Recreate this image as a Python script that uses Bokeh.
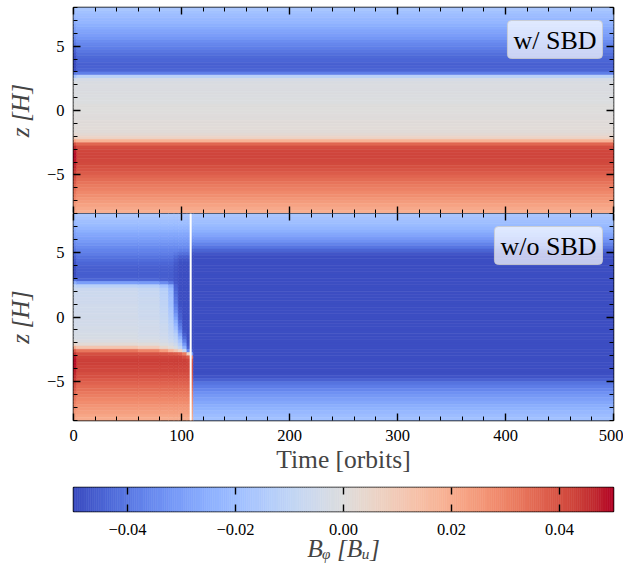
import numpy as np
from bokeh.plotting import figure
from bokeh.models import (ColumnDataSource, LinearAxis, FixedTicker, CustomJSTickFormatter,
                          Span, Label, LinearColorMapper, Range1d)
from bokeh.layouts import column
from bokeh.embed import file_html
from bokeh.resources import INLINE

# ------------------------------------------------------------------ data
TIME_RANGE = (0, 500)            # orbits
Z_RANGE = (-8, 8)                # H
B_LIMITS = (-0.05, 0.05)         # colour limits [B_u]
B_UNIT = 1e-3                    # profiles below are in units of 1e-3 B_u

X_TICKS = [0, 100, 200, 300, 400, 500]
X_MINOR = list(range(0, 501, 20))
Z_TICKS = [-5, 0, 5]
Z_MINOR = list(range(-8, 9))
CB_TICKS = [-0.04, -0.02, 0.0, 0.02, 0.04]

T_TRANSITION = 108.5             # white marker line in the lower panel (orbits)

PANEL_LABELS = ["w/ SBD", "w/o SBD"]

# z cells, 0.25 H thick, listed from the top (z = 8) downwards
Z_EDGES = [8 - 0.25 * k for k in range(65)]

# ---- B_phi(z) profiles (top -> bottom, 64 cells, 1e-3 B_u)
# segments: z 7.9..3.1 (20) | 2.9..2.4 (3) | 2.1..-1.6 (16) | -1.9..-2.9 (5) | -3.1..-7.9 (20)
SBD_START = ([-18, -19.5, -21, -23, -25, -27, -29, -31, -33, -35, -37.5, -40, -42.5, -45, -47, -48.5, -49.5, -50, -50, -49]
             + [-40, -18, -5]
             + [-1.5, -1, -1, -1, -1, -0.5, -0.5, 0, 0, 0, 0.5, 0.5, 1, 1, 1.5, 1.5]
             + [3, 8, 22, 40, 46]
             + [48, 49, 49, 48.5, 47.5, 46.5, 45, 43.5, 42, 40, 38.5, 36.5, 35, 33, 31, 29.5, 27.5, 25.5, 23.5, 21.5])
SBD_STEADY = ([-17, -18.5, -20, -21.5, -23, -25, -26.5, -28, -30, -32, -34, -36, -38, -40, -41.5, -43, -44, -45, -45, -44.5]
              + [-38, -12, -3]
              + [-1.5, -1, -1, -1, -1, -0.5, -0.5, 0, 0, 0, 0.5, 0.5, 1, 1, 1.5, 1.5]
              + [2.5, 6, 18, 36, 41]
              + [42, 42.5, 42.5, 42, 41.5, 40.5, 39.5, 38, 36.5, 35, 33.5, 32, 30.5, 29, 27.5, 26, 24.5, 23, 21, 19.5])

NOSBD_START = ([-18, -19.5, -21, -23, -25, -27, -29, -31, -33, -35, -37.5, -40, -42.5, -45, -47, -48.5, -49.5, -50, -50, -49]
               + [-42, -25, -10]
               + [-7, -6, -6, -5.5, -5.5, -5, -5, -5, -4.5, -4.5, -4, -4, -3.5, -3.5, -3, -2.5]
               + [0, 5, 18, 38, 45]
               + [48, 49, 49, 48.5, 47.5, 46.5, 45, 43.5, 42, 40, 38.5, 36.5, 35, 33, 31, 29.5, 27.5, 25.5, 23.5, 21.5])
NOSBD_EARLY = ([-16, -17.5, -19.5, -21, -23, -25, -27, -29, -31, -33, -35, -37, -39, -41, -42.5, -44, -45, -46, -46, -46]
               + [-44, -30, -12]
               + [-7, -6, -6, -5.5, -5.5, -5, -5, -5, -4.5, -4.5, -4, -4, -3.5, -3.5, -3, -2.5]
               + [-1, 2, 12, 33, 40.5]
               + [42.5, 43, 43, 42.5, 42, 41, 40, 38.5, 37, 35.5, 34, 32.5, 31, 29.5, 28, 26.5, 25, 23.5, 21.5, 20])
NOSBD_60 = ([-16, -17.5, -19.5, -21, -23, -25, -27, -29, -31, -33, -35, -37, -39, -41, -42.5, -44, -45, -46, -46, -46]
            + [-44, -31, -13]
            + [-8.5, -7.5, -7.5, -7, -7, -6.5, -6.5, -6, -6, -5.5, -5, -5, -4.5, -4.5, -4, -3.5]
            + [-2, 1, 9, 30, 40]
            + [42.5, 43, 43, 42.5, 42, 41, 40, 38.5, 37, 35.5, 34, 32.5, 31, 29.5, 28, 26.5, 25, 23.5, 21.5, 20])
NOSBD_80 = ([-16, -17.5, -19.5, -21, -23, -25, -27, -29, -31, -33, -35, -37, -39, -41, -42.5, -44, -45, -46, -46, -46]
            + [-45, -35, -18]
            + [-13, -12, -11.5, -11, -10.5, -10, -9.5, -9, -8.5, -8, -7.5, -7, -6.5, -6, -5.5, -5]
            + [-3.5, -1, 4, 24, 39.5]
            + [42.5, 43, 43, 42.5, 42, 41, 40, 38.5, 37, 35.5, 34, 32.5, 31, 29.5, 28, 26.5, 25, 23.5, 21.5, 20])
NOSBD_88 = ([-16, -17.5, -19.5, -21, -23, -25, -27, -29, -31, -33, -35, -37, -39, -41, -42.5, -44, -45, -46, -46, -46]
            + [-46, -40, -26]
            + [-22, -21, -20, -19.5, -19, -18, -17, -16, -15, -14, -13, -12, -11, -10, -9, -8]
            + [-6, -3, 1, 17, 39]
            + [42.5, 43, 43, 42.5, 42, 41, 40, 38.5, 37, 35.5, 34, 32.5, 31, 29.5, 28, 26.5, 25, 23.5, 21.5, 20])
NOSBD_93 = ([-16, -17.5, -19.5, -21, -23, -25, -27, -29, -31, -33, -35, -37, -40, -43, -45, -46.5, -47.5, -48, -48, -48]
            + [-48, -47, -45]
            + [-44, -43, -42, -41, -40, -38, -36, -34, -31, -28, -25, -22, -19, -16, -13, -11]
            + [-9, -6, -2, 12, 38]
            + [42.5, 43, 43, 42.5, 42, 41, 40, 38.5, 37, 35.5, 34, 32.5, 31, 29.5, 28, 26.5, 25, 23.5, 21.5, 20])
NOSBD_97 = ([-16, -17.5, -19.5, -21, -23, -25, -27, -29, -31, -33, -35, -38, -42, -46, -48, -49, -49.5, -49.5, -49.5, -49.5]
            + [-49.5, -49.5, -49.5]
            + [-49.5, -49.5, -49.5, -49.5, -49, -48.5, -48, -47, -46, -45, -43, -41, -38, -34, -29, -24]
            + [-19, -14, -9, 6, 37]
            + [42.5, 43, 43, 42.5, 42, 41, 40, 38.5, 37, 35.5, 34, 32.5, 31, 29.5, 28, 26.5, 25, 23.5, 21.5, 20])
NOSBD_101 = ([-16, -17.5, -19.5, -21, -23, -25, -27, -29, -31, -33, -35, -38, -42, -46, -48, -49, -49.5, -49.5, -49.5, -49.5]
             + [-49.5, -49.5, -49.5]
             + [-49.5] * 12 + [-49, -48, -46, -43]
             + [-38, -32, -24, -8, 32]
             + [41, 43, 43, 42.5, 42, 41, 40, 38.5, 37, 35.5, 34, 32.5, 31, 29.5, 28, 26.5, 25, 23.5, 21.5, 20])
NOSBD_105 = ([-16, -17.5, -19.5, -21, -23, -25, -27, -29, -31, -33, -35, -38, -42, -46, -48, -49, -49.5, -49.5, -49.5, -49.5]
             + [-49.5, -49.5, -49.5]
             + [-49.5] * 16
             + [-49, -48, -45, -36, 8]
             + [38, 42, 42.5, 42, 41.5, 41, 40, 38.5, 37, 35.5, 34, 32.5, 31, 29.5, 28, 26.5, 25, 23.5, 21.5, 20])
NOSBD_109 = ([-17, -18, -19.5, -21, -23, -25, -27.5, -30.5, -33.5, -37, -40.5, -44.5, -48, -49.5, -49.5, -49.5, -49.5, -49.5, -49.5, -49.5]
             + [-49.5, -49.5, -49.5]
             + [-49.5] * 16
             + [-49.5, -49.5, -49, -46, -30]
             + [30, 38, 40, 40, 39.5, 39, 38, 37, 36, 34.5, 33, 31.5, 30, 28.5, 27, 25.5, 24, 22.5, 21, 19.5])
NOSBD_LATE = ([-17, -18, -19.5, -21, -23, -25, -27.5, -30.5, -33.5, -37, -40.5, -44.5, -48, -49.5, -49.5, -49.5, -49.5, -49.5, -49.5, -49.5]
              + [-49.5, -49.5, -49.5]
              + [-49.5] * 16
              + [-49.5] * 5
              + [-49.5] * 6 + [-48, -45, -41, -38.5, -36, -33.5, -31.5, -29.5, -27.5, -25.5, -24, -22, -20.5, -19])

SBD_T_EDGES = [0, 3, 500]
SBD_PROFILES = [SBD_START, SBD_STEADY]
NOSBD_T_EDGES = [0, 3, 60, 80, 88, 93, 97, 101, 105, 108.5, 111, 500]
NOSBD_PROFILES = [NOSBD_START, NOSBD_EARLY, NOSBD_60, NOSBD_80, NOSBD_88, NOSBD_93,
                  NOSBD_97, NOSBD_101, NOSBD_105, NOSBD_109, NOSBD_LATE]

# ------------------------------------------------------------------ colormap (coolwarm)
_CW = [(59, 76, 192), (68, 90, 204), (77, 104, 215), (87, 117, 225), (98, 130, 234), (108, 142, 241),
       (119, 154, 247), (130, 165, 251), (141, 176, 254), (152, 185, 255), (163, 194, 255), (174, 201, 253),
       (184, 208, 249), (194, 213, 244), (204, 217, 238), (213, 219, 230), (221, 221, 221), (229, 216, 209),
       (236, 211, 197), (241, 204, 185), (245, 196, 173), (247, 187, 160), (247, 177, 148), (247, 166, 135),
       (244, 154, 123), (241, 141, 111), (236, 127, 99), (229, 112, 88), (222, 96, 77), (213, 80, 66),
       (203, 62, 56), (192, 40, 47), (180, 4, 38)]
_pos = np.linspace(0, 1, len(_CW))
_s = np.linspace(0, 1, 256)
_arr = np.array(_CW, dtype=float)
PALETTE = ["#%02x%02x%02x" % tuple(int(round(np.interp(s, _pos, _arr[:, c]))) for c in range(3)) for s in _s]
MAPPER = LinearColorMapper(palette=PALETTE, low=B_LIMITS[0], high=B_LIMITS[1])

FONT = "Liberation Serif"
FRAME_W = 540
LEFT_B = 73
RIGHT_B = 10
FIG_W = LEFT_B + FRAME_W + RIGHT_B
TICK_SIZE = "16.5px"
LABEL_SIZE = "25.5px"


def cells(t_edges, profiles):
    L, R, T, B, V = [], [], [], [], []
    for j, prof in enumerate(profiles):
        assert len(prof) == 64, len(prof)
        for k, v in enumerate(prof):
            L.append(t_edges[j]); R.append(t_edges[j + 1])
            T.append(Z_EDGES[k]); B.append(Z_EDGES[k + 1])
            V.append(v * B_UNIT)
    return ColumnDataSource(dict(left=L, right=R, top=T, bottom=B, b=V))


def minus_formatter(decimals):
    return CustomJSTickFormatter(
        code="var s = Math.abs(tick).toFixed(%d); return (tick < -1e-12 ? '\\u2212' : '') + s;" % decimals)


def style_axis(ax, labels):
    ax.axis_line_color = None
    ax.major_tick_in = 7
    ax.major_tick_out = 0
    ax.minor_tick_in = 4
    ax.minor_tick_out = 0
    ax.major_tick_line_color = "black"
    ax.minor_tick_line_color = "black"
    ax.major_tick_line_width = 1.4
    ax.minor_tick_line_width = 1.0
    if labels:
        ax.major_label_text_font = FONT
        ax.major_label_text_font_size = TICK_SIZE
        ax.major_label_text_color = "black"
        ax.major_label_standoff = 9
    else:
        ax.formatter = CustomJSTickFormatter(code="return '';")
        ax.major_label_text_font_size = "0px"
        ax.major_label_standoff = 0


def panel(t_edges, profiles, label, frame_h, top_b, bottom_b, bottom_axis):
    p = figure(width=FIG_W, height=frame_h + top_b + bottom_b,
               x_range=Range1d(*TIME_RANGE), y_range=Range1d(*Z_RANGE),
               x_axis_type=None, y_axis_type=None,
               output_backend="svg", toolbar_location=None,
               min_border_left=LEFT_B, min_border_right=RIGHT_B,
               min_border_top=top_b, min_border_bottom=bottom_b)
    p.outline_line_color = "black"
    p.outline_line_width = 1.5
    p.background_fill_color = "white"
    p.border_fill_color = "white"

    src = cells(t_edges, profiles)
    cmap = {"field": "b", "transform": MAPPER}
    p.quad(left="left", right="right", top="top", bottom="bottom", source=src,
           fill_color=cmap, line_color=cmap, line_width=0.6)

    xt = FixedTicker(ticks=X_TICKS, minor_ticks=X_MINOR)
    yt = FixedTicker(ticks=Z_TICKS, minor_ticks=Z_MINOR)

    left = LinearAxis(ticker=yt, formatter=minus_formatter(0), axis_label="z\u2009[H]")
    style_axis(left, True)
    left.axis_label_text_font = FONT
    left.axis_label_text_font_size = LABEL_SIZE
    left.axis_label_text_font_style = "italic"
    left.axis_label_standoff = 9
    p.add_layout(left, "left")

    right = LinearAxis(ticker=yt)
    style_axis(right, False)
    p.add_layout(right, "right")

    top = LinearAxis(ticker=xt)
    style_axis(top, False)
    p.add_layout(top, "above")

    bot = LinearAxis(ticker=xt)
    if bottom_axis:
        style_axis(bot, True)
        bot.axis_label = "Time [orbits]"
        bot.axis_label_text_font = FONT
        bot.axis_label_text_font_size = LABEL_SIZE
        bot.axis_label_text_font_style = "normal"
        bot.axis_label_standoff = 1
    else:
        style_axis(bot, False)
    p.add_layout(bot, "below")

    p.add_layout(Label(x=TIME_RANGE[1], y=Z_RANGE[1], x_offset=-11, y_offset=-13, text=label,
                       text_font=FONT, text_font_size="26px", text_color="black",
                       text_align="right", text_baseline="top",
                       padding=dict(left=6, right=6, top=5, bottom=4),
                       background_fill_color="white", background_fill_alpha=0.7,
                       border_line_color="#cccccc", border_line_alpha=0.8, border_line_width=1,
                       border_radius=4))
    return p


p1 = panel(SBD_T_EDGES, SBD_PROFILES, PANEL_LABELS[0], 206, 7, 0, False)
p2 = panel(NOSBD_T_EDGES, NOSBD_PROFILES, PANEL_LABELS[1], 207, 0, 62, True)
p2.add_layout(Span(location=T_TRANSITION, dimension="height", line_color="white", line_width=2))

# ------------------------------------------------------------------ colour bar
cb = figure(width=FIG_W, height=5 + 28 + 50, x_range=Range1d(*B_LIMITS), y_range=Range1d(0, 1),
            x_axis_type=None, y_axis_type=None, output_backend="svg", toolbar_location=None,
            min_border_left=LEFT_B, min_border_right=RIGHT_B, min_border_top=5, min_border_bottom=50)
cb.outline_line_color = "black"
cb.outline_line_width = 1.5
cb_edges = np.linspace(B_LIMITS[0], B_LIMITS[1], len(PALETTE) + 1)
cb_src = ColumnDataSource(dict(left=cb_edges[:-1], right=cb_edges[1:],
                               b=0.5 * (cb_edges[:-1] + cb_edges[1:])))
cbmap = {"field": "b", "transform": MAPPER}
cb.quad(left="left", right="right", bottom=0, top=1, source=cb_src,
        fill_color=cbmap, line_color=cbmap, line_width=0.6)
cbt = FixedTicker(ticks=CB_TICKS, minor_ticks=[])
cb_bot = LinearAxis(ticker=cbt, formatter=minus_formatter(2), axis_label="B\u1d69 [B\u1d64]")
style_axis(cb_bot, True)
cb_bot.major_label_standoff = 12
cb_bot.axis_label_text_font = FONT
cb_bot.axis_label_text_font_size = LABEL_SIZE
cb_bot.axis_label_text_font_style = "italic"
cb_bot.axis_label_standoff = -4
cb.add_layout(cb_bot, "below")
cb_top = LinearAxis(ticker=cbt)
style_axis(cb_top, False)
cb.add_layout(cb_top, "above")

layout = column(p1, p2, cb, spacing=0)

with open("out.html", "w", encoding="utf-8") as f:
    f.write(file_html(layout, INLINE))
